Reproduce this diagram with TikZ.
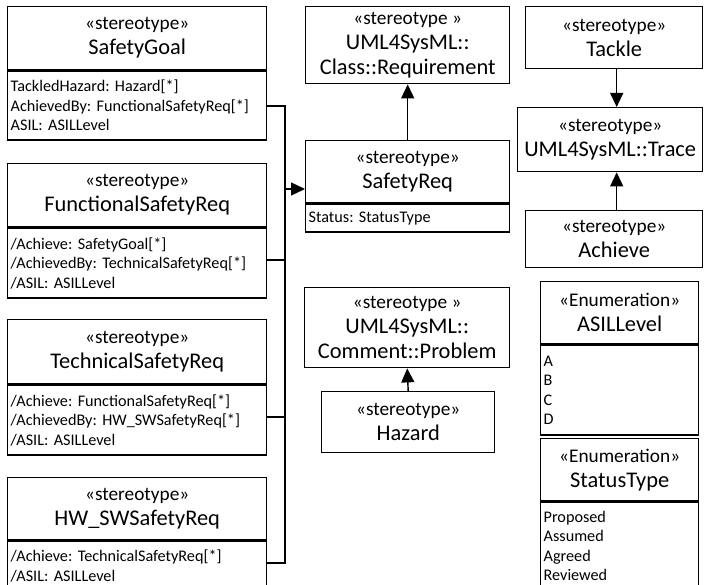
\documentclass[tikz,border=0pt]{standalone}
\usepackage{fontspec}
\setmainfont{Carlito}
\usetikzlibrary{arrows.meta}
\frenchspacing
\newcommand{\stt}{\fontsize{19.3}{25}\selectfont}
\newcommand{\nmm}{\fontsize{22.4}{25}\selectfont}
\begin{document}
\begin{tikzpicture}[x=1pt,y=-1pt,
  hdr/.style={draw,line width=1.4pt,anchor=north west,align=center,inner sep=0pt,font=\nmm},
  comp/.style={draw,line width=1.4pt,anchor=north west,align=left,inner sep=0pt,text width=#1,font=\fontsize{16.2}{19.5}\selectfont},
  conn/.style={line width=1.4pt},
  arr/.style={line width=1.4pt,-{Triangle[length=14pt,width=13pt]}}]
\clip (0,0) rectangle (704,585);
\useasboundingbox (0,0) rectangle (704,585);
% left column
\node[hdr,minimum width=259,minimum height=63] (sg) at (7,6) {{\stt«stereotype»}\\SafetyGoal};
\node[comp=253,minimum width=259,minimum height=69] (sgc) at (sg.south west) {TackledHazard: Hazard[*]\\AchievedBy: FunctionalSafetyReq[*]\\ASIL: ASILLevel};
\node[hdr,minimum width=259,minimum height=63] (fsr) at (7,163) {{\stt«stereotype»}\\FunctionalSafetyReq};
\node[comp=253,minimum width=259,minimum height=70] (fsrc) at (fsr.south west) {/Achieve: SafetyGoal[*]\\/AchievedBy: TechnicalSafetyReq[*]\\/ASIL: ASILLevel};
\node[hdr,minimum width=259,minimum height=64] (tsr) at (7,319) {{\stt«stereotype»}\\TechnicalSafetyReq};
\node[comp=253,minimum width=259,minimum height=70] (tsrc) at (tsr.south west) {/Achieve: FunctionalSafetyReq[*]\\/AchievedBy: HW\_SWSafetyReq[*]\\/ASIL: ASILLevel};
\node[hdr,minimum width=259,minimum height=62] (hw) at (7,477) {{\stt«stereotype»}\\HW\_SWSafetyReq};
\node[comp=253,minimum width=259,minimum height=50] (hwc) at (hw.south west) {/Achieve: TechnicalSafetyReq[*]\\/ASIL: ASILLevel};
% middle column
\node[hdr,minimum width=204,minimum height=77] (req) at (305,6) {{\stt«stereotype »}\\UML4SysML::\\Class::Requirement};
\node[hdr,minimum width=204,minimum height=62] (sr) at (305,140) {{\stt«stereotype»}\\SafetyReq};
\node[comp=198,minimum width=204,minimum height=28] (src) at (sr.south west) {Status: StatusType};
\node[hdr,minimum width=205,minimum height=80] (prob) at (304,287) {{\stt«stereotype »}\\UML4SysML::\\Comment::Problem};
\node[hdr,minimum width=173,minimum height=61] (haz) at (321,391) {{\stt«stereotype»}\\Hazard};
% right column
\node[hdr,minimum width=177,minimum height=62] (tack) at (525,6) {{\stt«stereotype»}\\Tackle};
\node[hdr,minimum width=185,minimum height=64] (trace) at (517,107) {{\stt«stereotype»}\\UML4SysML::Trace};
\node[hdr,minimum width=177,minimum height=57] (ach) at (525,210) {{\stt«stereotype»}\\Achieve};
\node[hdr,minimum width=158,minimum height=62] (asil) at (540,281) {{\stt«Enumeration»}\\ASILLevel};
\node[comp=152,minimum width=158,minimum height=90] (asilc) at (asil.south west) {A\\B\\C\\D};
\node[hdr,minimum width=158,minimum height=62] (stat) at (540,438) {{\stt«Enumeration»}\\StatusType};
\node[comp=152,minimum width=158,minimum height=88] (statc) at (stat.south west) {Proposed\\Assumed\\Agreed\\Reviewed};
% connectors
\coordinate (j1) at (285,106);
\coordinate (j2) at (285,260);
\coordinate (j3) at (285,417);
\coordinate (j4) at (285,563);
\coordinate (ja) at (285,189);
\draw[conn] (sgc.east |- j1) -- (j1) -- (j4) -- (hwc.east |- j4);
\draw[conn] (fsrc.east |- j2) -- (j2);
\draw[conn] (tsrc.east |- j3) -- (j3);
\draw[arr] (ja) -- (sr.west |- ja);
\draw[arr] (sr.north) -- (req.south);
\draw[arr] ([xshift=2.5pt]tack.south) -- ([xshift=2.5pt]tack.south |- trace.north);
\draw[arr] ([xshift=2.5pt]ach.north) -- ([xshift=2.5pt]ach.north |- trace.south);
\draw[arr] (haz.north) -- (prob.south);
\end{tikzpicture}
\end{document}
